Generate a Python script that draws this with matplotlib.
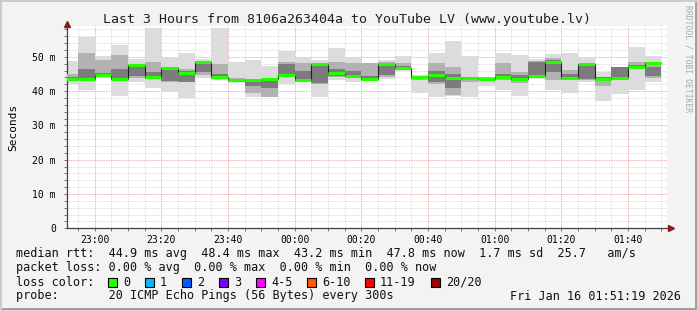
import numpy as np
import pandas as pd
import matplotlib
matplotlib.use("Agg")
import matplotlib.pyplot as plt
import matplotlib.dates as mdates
from matplotlib.ticker import MultipleLocator, FuncFormatter
from matplotlib.patches import Rectangle

# 5 minute buckets, values in ms
median = [43.6, 43.6, 44.8, 43.6, 47.6, 44.2, 46.7, 45.4, 48.6, 44.0, 43.2, 43.2,
          43.6, 44.7, 43.2, 47.8, 45.4, 44.4, 43.4, 47.8, 46.8, 44.2, 44.6, 43.7,
          43.7, 43.5, 44.2, 43.6, 44.4, 48.6, 43.7, 47.8, 43.6, 43.7, 46.9, 48.1]
smoke_lo = [42.0, 40.3, 44.2, 38.6, 42.7, 40.8, 39.8, 37.9, 43.7, 43.2, 42.3, 38.4,
            38.4, 42.0, 43.2, 38.4, 43.2, 42.7, 43.2, 43.4, 45.9, 39.6, 38.4, 38.7,
            38.4, 41.6, 40.3, 38.7, 43.4, 40.3, 39.4, 42.7, 37.2, 39.1, 40.3, 42.7]
smoke_hi = [48.8, 55.9, 50.2, 53.6, 49.3, 58.3, 50.0, 51.2, 49.3, 58.3, 48.6, 49.1,
            47.3, 51.7, 49.7, 49.1, 52.5, 49.6, 48.1, 49.1, 50.2, 44.7, 51.2, 54.6,
            50.2, 44.2, 51.2, 50.5, 49.3, 50.8, 51.2, 49.6, 45.7, 47.1, 52.9, 50.2]
mid_lo = [43.0, 44.2, 44.5, 43.8, 43.8, 45.0, 42.7, 42.7, 44.6, 44.6, 42.8, 39.5,
          38.4, 44.7, 43.9, 42.0, 44.1, 44.0, 43.6, 44.0, 46.3, 43.2, 42.0, 38.8,
          42.7, 43.2, 43.2, 42.4, 44.1, 43.2, 43.2, 43.2, 41.6, 43.2, 46.5, 43.8]
mid_hi = [45.0, 51.0, 49.0, 50.5, 46.8, 48.6, 46.2, 46.5, 48.6, 47.8, 43.8, 43.2,
          43.2, 48.6, 48.2, 47.7, 48.6, 48.1, 48.1, 48.5, 48.1, 44.5, 48.1, 47.0,
          44.2, 44.0, 48.1, 45.7, 48.8, 49.8, 46.2, 47.5, 44.2, 47.1, 48.6, 48.6]
core_lo = [43.2, 43.6, 44.5, 43.6, 44.5, 43.6, 42.9, 42.7, 45.5, 44.0, 42.9, 41.5,
           41.0, 44.7, 43.6, 42.5, 44.5, 44.2, 43.4, 44.8, 46.5, 43.6, 42.8, 41.0,
           43.2, 43.3, 43.8, 43.0, 44.4, 45.5, 43.4, 43.6, 43.0, 43.4, 46.5, 44.5]
core_hi = [44.0, 46.6, 45.2, 46.5, 47.6, 45.5, 46.2, 46.0, 48.6, 45.0, 43.6, 43.2,
           43.6, 48.0, 46.0, 47.8, 46.6, 46.0, 44.3, 47.8, 47.4, 44.2, 46.0, 45.0,
           44.0, 43.8, 45.0, 44.8, 48.5, 49.0, 45.0, 47.8, 44.0, 47.0, 47.5, 47.0]

edges = pd.date_range("2026-01-15 22:50", periods=37, freq="5min")
t_start = pd.Timestamp("2026-01-15 22:51:40")
t_end = pd.Timestamp("2026-01-16 01:51:40")

loss_labels = ["0", "1", "2", "3", "4-5", "6-10", "11-19", "20/20"]
loss_colors = ["#26ff00", "#00b8ff", "#0059ff", "#7e00ff", "#ff00ff", "#ff5500", "#ff0000", "#a10000"]

W, H = 697, 310
mono = "DejaVu Sans Mono"
plt.rcParams["font.family"] = mono

fig = plt.figure(figsize=(W / 100, H / 100), dpi=100, facecolor="#f3f3f3")
ax = fig.add_axes([67 / W, (H - 228.3) / H, 600 / W, 202.3 / H])
ax.set_facecolor("white")

x = mdates.date2num(edges)
left = x[:-1]
wid = np.diff(x)
lo, hi = np.array(smoke_lo), np.array(smoke_hi)
ax.bar(left, hi - lo, bottom=lo, width=wid, align="edge", color="#dcdcdc", lw=0, zorder=2)
ax.bar(left, np.array(mid_hi) - np.array(mid_lo), bottom=mid_lo, width=wid, align="edge",
       color="#b2b2b2", lw=0, zorder=3)
ax.bar(left, np.array(core_hi) - np.array(core_lo), bottom=core_lo, width=wid, align="edge",
       color="#7c7c7c", lw=0, zorder=4)
ax.stairs(median, x, baseline=None, color="#202020", lw=0.8, zorder=5)
ax.hlines(median, left, x[1:], color=loss_colors[0], lw=2.2, zorder=6)

ax.set_xlim(mdates.date2num(t_start), mdates.date2num(t_end))
ax.set_ylim(0, 59.0)

ax.xaxis.set_major_locator(mdates.MinuteLocator(byminute=[0, 20, 40]))
ax.xaxis.set_minor_locator(mdates.MinuteLocator(byminute=range(0, 60, 5)))
ax.xaxis.set_major_formatter(mdates.DateFormatter("%H:%M"))
ax.yaxis.set_major_locator(MultipleLocator(10))
ax.yaxis.set_minor_locator(MultipleLocator(2))
ax.yaxis.set_major_formatter(FuncFormatter(lambda v, p: "0" if v == 0 else "%d m" % v))

ax.grid(which="minor", color="#d4d4d4", linestyle=(0, (1, 1)), lw=0.6)
ax.grid(which="major", color="#f09090", linestyle=(0, (1, 1)), lw=0.6)
ax.set_axisbelow(True)
for s in ("top", "right"):
    ax.spines[s].set_visible(False)
for s in ("left", "bottom"):
    ax.spines[s].set_color("#404040")
    ax.spines[s].set_linewidth(0.9)
ax.tick_params(which="both", length=2, width=0.6, color="#606060", labelsize=7, pad=3)
ax.tick_params(axis="y", pad=6)

# axis arrows
ax.plot([0], [1.012], marker="^", ms=4, color="#8b1a1a", transform=ax.transAxes, clip_on=False)
ax.plot([1.006], [0], marker=">", ms=4, color="#8b1a1a", transform=ax.transAxes, clip_on=False)

ax.set_ylabel("Seconds", fontsize=8)
ax.yaxis.set_label_coords(-49 / 600, 0.5)

def px(xp, yp):
    return xp / W, 1 - yp / H

fig.text(*px(347, 19), "Last 3 Hours from 8106a263404a to YouTube LV (www.youtube.lv)",
         ha="center", va="center", fontsize=9.5, color="#202020")
fig.text(*px(688, 5), "RRDTOOL / TOBI OETIKER", rotation=270, ha="center", va="top",
         fontsize=5.8, color="#a8a8a8")

fs = 8.5
fig.text(*px(16, 254), "median rtt:  44.9 ms avg  48.4 ms max  43.2 ms min  47.8 ms now  1.7 ms sd  25.7   am/s",
         ha="left", va="center", fontsize=fs, color="#101010")
fig.text(*px(16, 268), "packet loss: 0.00 % avg  0.00 % max  0.00 % min  0.00 % now",
         ha="left", va="center", fontsize=fs, color="#101010")
fig.text(*px(16, 282), "loss color:", ha="left", va="center", fontsize=fs, color="#101010")
sq_x = [108, 145, 182, 219, 256, 307, 365, 431]
for sx, lab, col in zip(sq_x, loss_labels, loss_colors):
    fig.add_artist(Rectangle(((sx) / W, 1 - 286.5 / H), 9 / W, 9 / H, transform=fig.transFigure,
                             facecolor=col, edgecolor="black", lw=0.8))
    fig.text(*px(sx + 15, 282), lab, ha="left", va="center", fontsize=fs, color="#101010")
fig.text(*px(16, 296), "probe:       20 ICMP Echo Pings (56 Bytes) every 300s",
         ha="left", va="center", fontsize=fs, color="#101010")
fig.text(*px(681, 296), "Fri Jan 16 01:51:19 2026", ha="right", va="center", fontsize=fs, color="#101010")

# frame shading
fig.add_artist(Rectangle((0, 0), 1, 2 / H, transform=fig.transFigure, color="#a0a0a0", lw=0))
fig.add_artist(Rectangle((1 - 2 / W, 0), 2 / W, 1, transform=fig.transFigure, color="#a0a0a0", lw=0))
fig.add_artist(Rectangle((0, 0), 1.5 / W, 1, transform=fig.transFigure, color="#cccccc", lw=0))
fig.add_artist(Rectangle((0, 1 - 1.5 / H), 1, 1.5 / H, transform=fig.transFigure, color="#cccccc", lw=0))

fig.savefig("out.png", dpi=100, facecolor=fig.get_facecolor())
